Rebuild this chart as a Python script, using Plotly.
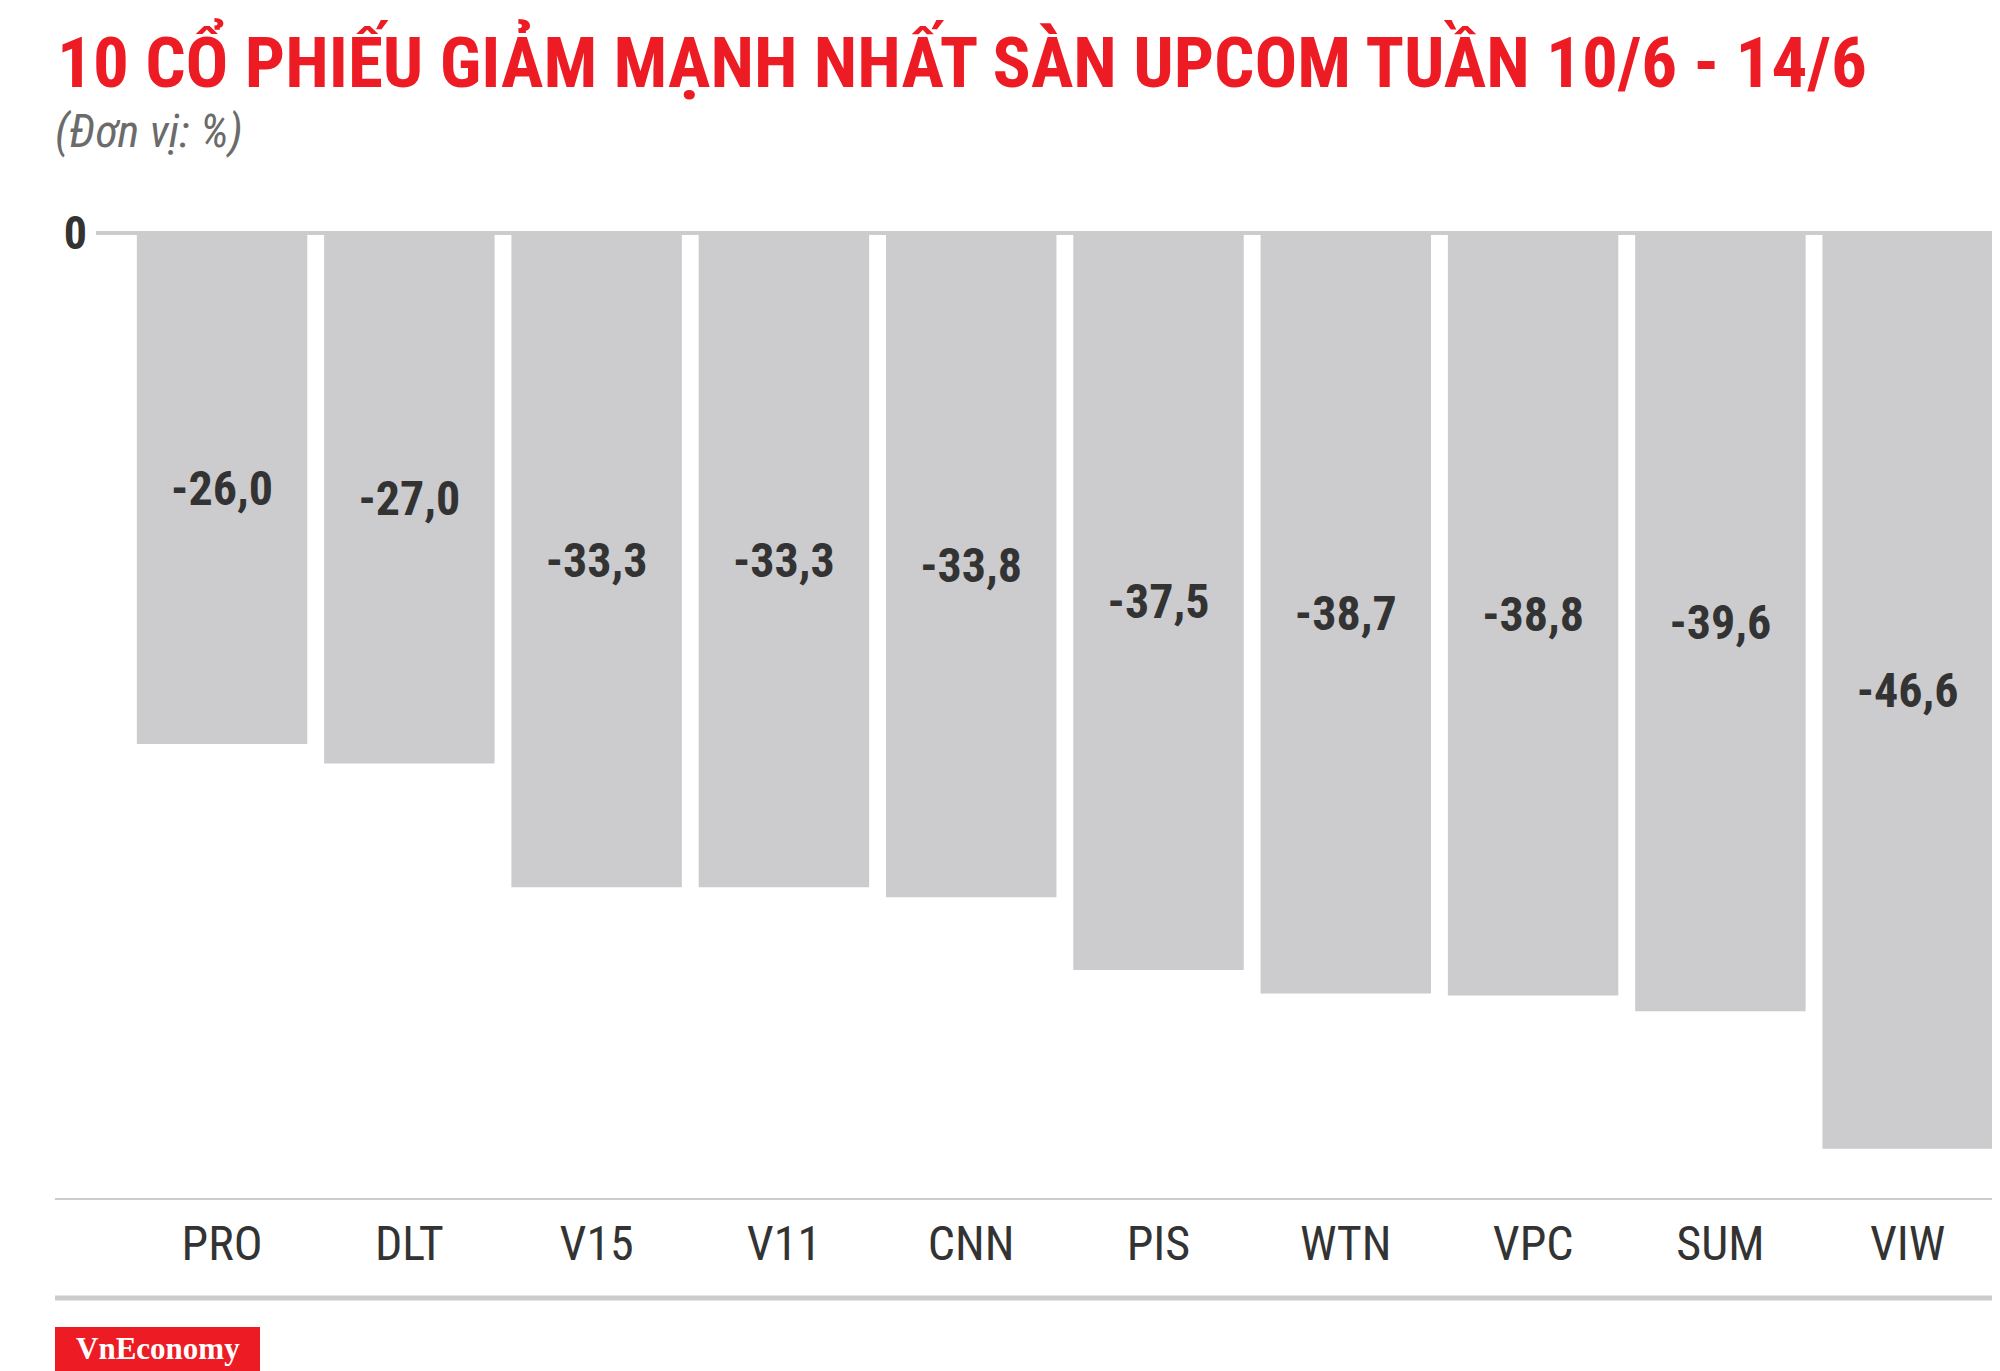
import plotly.graph_objects as go

categories = ["PRO", "DLT", "V15", "V11", "CNN", "PIS", "WTN", "VPC", "SUM", "VIW"]
values = [-26.0, -27.0, -33.3, -33.3, -33.8, -37.5, -38.7, -38.8, -39.6, -46.6]
title_text = "10 CỔ PHIẾU GIẢM MẠNH NHẤT SÀN UPCOM TUẦN 10/6 - 14/6"
subtitle_text = "(Đơn vị: %)"

# page body has an 8px margin; figure is sized and positioned to compensate
OFF = 8
W, H = 2000 - OFF, 1371 - OFF
L, R, T, B = 96 - OFF, 0, 200 - OFF, 172
pw, ph = W - L - R, H - T - B

COND = "Roboto Condensed, Liberation Sans Narrow, Arial Narrow, DejaVu Sans Condensed, sans-serif"

def px(xpix):
    return (xpix - OFF - L) / pw

def py(ypix):
    return (H - B - (ypix - OFF)) / ph

fig = go.Figure(go.Bar(
    x=categories, y=values,
    marker=dict(color="#cccbcd", line=dict(width=0)),
    texttemplate="%{y:.1f}",
    textposition="inside", insidetextanchor="middle",
    textangle=0,
    textfont=dict(family=COND, size=48, color="#333333", weight="bold"),
    cliponaxis=False,
))

fig.update_layout(
    width=W, height=H,
    margin=dict(l=L, r=R, t=T, b=B),
    paper_bgcolor="white", plot_bgcolor="white",
    separators=",.",
    bargap=0.09,
    showlegend=False,
    title=dict(text=title_text, x=(57 - OFF) / W, xanchor="left", xref="container",
               y=1 - (62 - OFF) / H, yanchor="middle", yref="container",
               font=dict(family=COND, size=71, color="#ed1c24", weight="bold")),
    xaxis=dict(range=[-0.673, 9.493], showgrid=False, zeroline=False, showline=False,
               ticks="", tickfont=dict(family=COND, size=48, color="#333333"),
               ticklabelstandoff=12),
    yaxis=dict(range=[-49.16, 1.68], showgrid=False, zeroline=False, showline=False,
               tickvals=[0], ticktext=["0"], ticks="",
               tickfont=dict(family=COND, size=46, color="#333333", weight="bold"),
               ticklabelstandoff=8),
)

shapes = [
    dict(type="line", xref="paper", yref="y", x0=0, x1=1, y0=0, y1=0,
         line=dict(color="#cccccc", width=4), layer="above"),
    dict(type="line", xref="paper", yref="paper", x0=px(55), x1=px(1994), y0=py(1199), y1=py(1199),
         line=dict(color="#cccccc", width=2)),
    dict(type="line", xref="paper", yref="paper", x0=px(55), x1=px(1994), y0=py(1298), y1=py(1298),
         line=dict(color="#cccccc", width=5)),
    dict(type="rect", xref="paper", yref="paper", x0=px(55), x1=px(260), y0=py(1375), y1=py(1327),
         fillcolor="#ed1c24", line=dict(width=0)),
]
fig.update_layout(shapes=shapes)

fig.add_annotation(text=subtitle_text, xref="paper", yref="paper", x=px(53), y=py(131),
                   xanchor="left", yanchor="middle", showarrow=False,
                   font=dict(family=COND, size=46, color="#6b6b6b", style="italic"))
fig.add_annotation(text="VnEconomy", xref="paper", yref="paper", x=px(158), y=py(1348),
                   xanchor="center", yanchor="middle", showarrow=False,
                   font=dict(family="Liberation Serif, Times New Roman, serif", size=31,
                             color="white", weight="bold"))

fig.write_html("out.html")
